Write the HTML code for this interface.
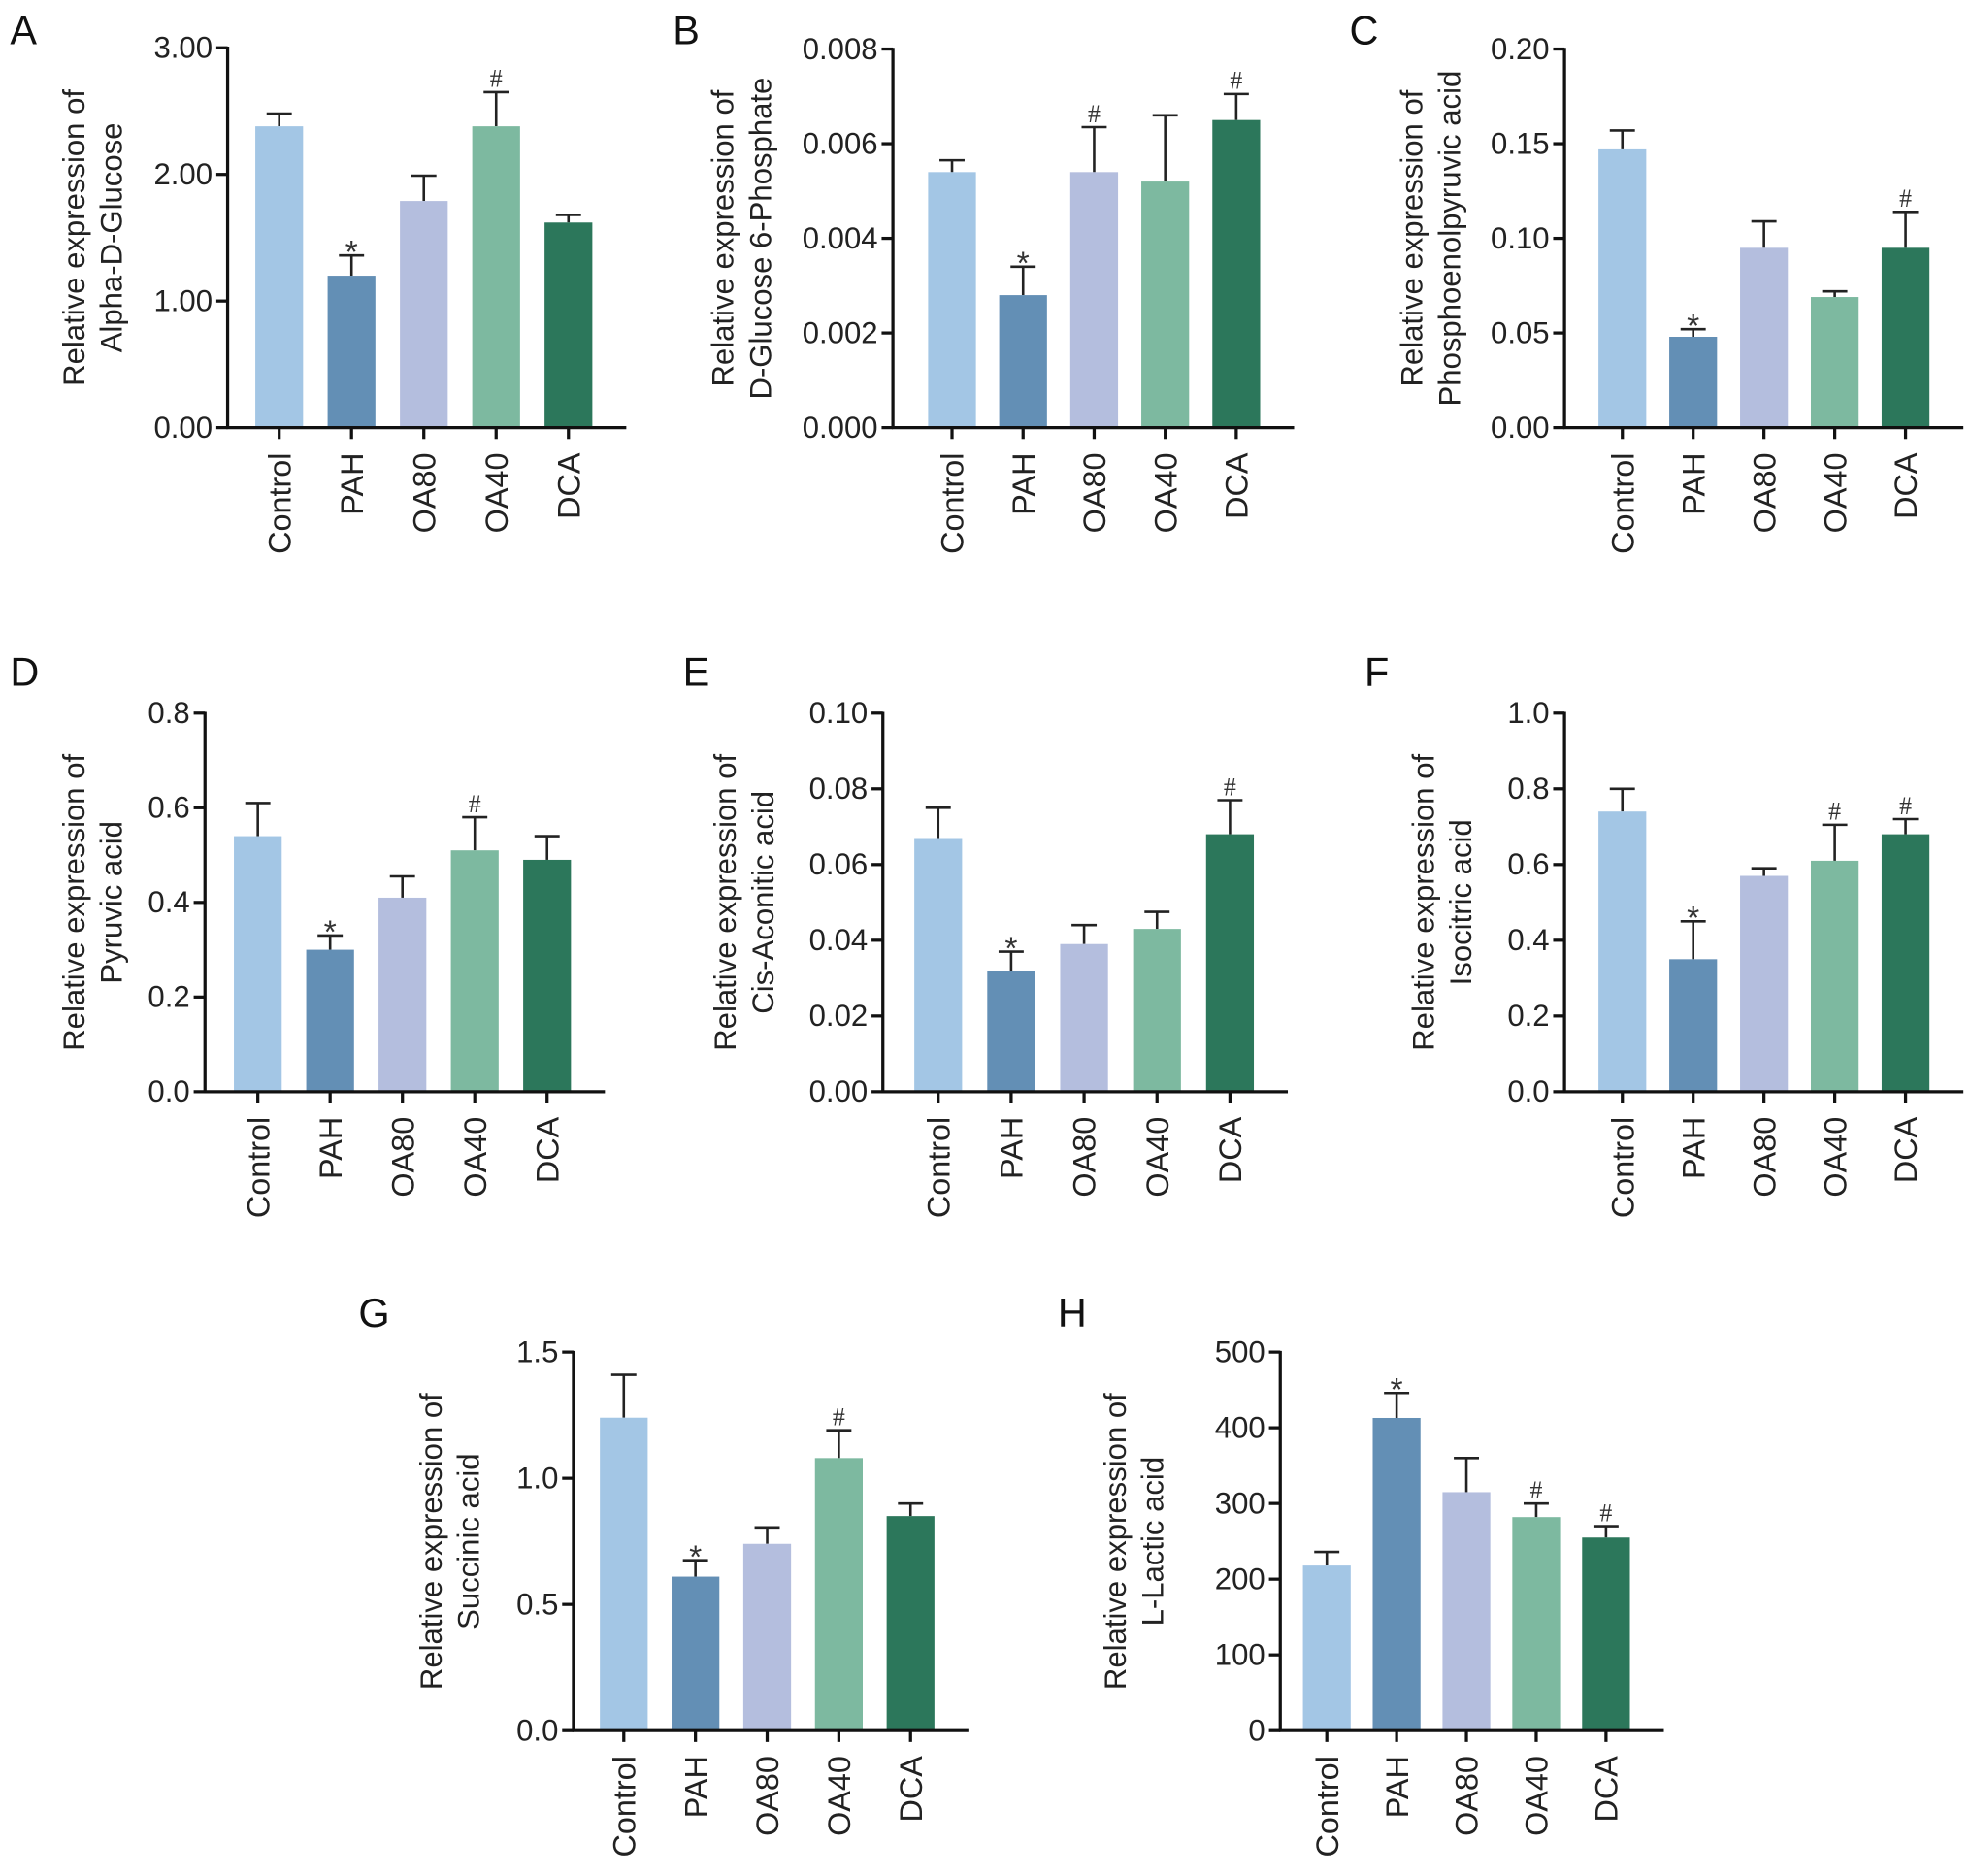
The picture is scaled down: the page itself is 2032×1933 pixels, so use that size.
<!DOCTYPE html>
<html><head><meta charset="utf-8"><style>
html,body{margin:0;padding:0;background:#fff;}
svg{display:block;font-family:"Liberation Sans",Arial,sans-serif;}
</style></head><body>
<svg id="fig" width="2032" height="1933" viewBox="0 0 1568 1491.6" xmlns="http://www.w3.org/2000/svg"></svg>
<script>
const categories = ["Control","PAH","OA80","OA40","DCA"];
const colors = ["#a3c6e5","#638fb5","#b4bede","#7db9a0","#2c775b"];

const aValues = [2.38,1.2,1.79,2.38,1.62];
const aErrors = [0.1,0.16,0.2,0.27,0.06];
const aMarks = ["","*","","#",""];
const aTicks = ["0.00","1.00","2.00","3.00"];

const bValues = [0.0054,0.0028,0.0054,0.0052,0.0065];
const bErrors = [0.00025,0.0006,0.00095,0.0014,0.00055];
const bMarks = ["","*","#","","#"];
const bTicks = ["0.000","0.002","0.004","0.006","0.008"];

const cValues = [0.147,0.048,0.095,0.069,0.095];
const cErrors = [0.01,0.004,0.014,0.003,0.019];
const cMarks = ["","*","","","#"];
const cTicks = ["0.00","0.05","0.10","0.15","0.20"];

const dValues = [0.54,0.30,0.41,0.51,0.49];
const dErrors = [0.07,0.03,0.045,0.07,0.05];
const dMarks = ["","*","","#",""];
const dTicks = ["0.0","0.2","0.4","0.6","0.8"];

const eValues = [0.067,0.032,0.039,0.043,0.068];
const eErrors = [0.008,0.005,0.005,0.0045,0.009];
const eMarks = ["","*","","","#"];
const eTicks = ["0.00","0.02","0.04","0.06","0.08","0.10"];

const fValues = [0.74,0.35,0.57,0.61,0.68];
const fErrors = [0.06,0.1,0.02,0.095,0.04];
const fMarks = ["","*","","#","#"];
const fTicks = ["0.0","0.2","0.4","0.6","0.8","1.0"];

const gValues = [1.24,0.61,0.74,1.08,0.85];
const gErrors = [0.17,0.065,0.065,0.11,0.05];
const gMarks = ["","*","","#",""];
const gTicks = ["0.0","0.5","1.0","1.5"];

const hValues = [218,413,315,282,255];
const hErrors = [18,33,45,18,15];
const hMarks = ["","*","","#","#"];
const hTicks = ["0","100","200","300","400","500"];

const NS="http://www.w3.org/2000/svg";
const svg=document.getElementById('fig');
function mk(tag,attrs,parent){const e=document.createElementNS(NS,tag);for(const k in attrs)e.setAttribute(k,attrs[k]);(parent||svg).appendChild(e);return e;}

function panel(p){
  const g=mk('g',{});
  
  
  const ticksNum=p.ticks.map(Number);
  const ymax=ticksNum[ticksNum.length-1];
  const y=v=>p.zero-(v/ymax)*(p.zero-p.top);
  const x=i=>p.ax+p.first+i*p.step;
  const L=mk('text',{x:p.lx,y:p.ly,'font-size':32,fill:'#111'},g);L.textContent=p.letter;
  
  
  p.values.forEach((v,i)=>{
    const cx=x(i),top=y(v),et=y(v+p.errors[i]);
    const el=mk('line',{x1:cx,x2:cx,y1:top,y2:et,stroke:'#222','stroke-width':2},g);
    
    
    const cap=mk('line',{x1:cx-10,x2:cx+10,y1:et,y2:et,stroke:'#222','stroke-width':2},g);
    
    
    const r=mk('rect',{x:cx-19,y:top,width:38,height:p.zero-top,fill:colors[i]},g);
    
    
    if(p.marks[i]){
      const star=p.marks[i]==='*';
      const m=mk('text',{x:cx,y:star?et+6:et-4,'text-anchor':'middle','font-size':star?26:20,fill:'#333','font-family':star?'Liberation Sans,sans-serif':'Liberation Serif,serif'},g);
      m.textContent=p.marks[i];
      
      
    }
    const t=mk('line',{x1:cx,x2:cx,y1:p.zero,y2:p.zero+9,stroke:'#111','stroke-width':2.5},g);
    
    
    const lbl=mk('text',{x:0,y:0,'font-size':25,fill:'#222','text-anchor':'end',transform:`translate(${cx+9},${p.zero+20}) rotate(-90)`},g);
    lbl.textContent=categories[i];
    
    
  });
  const ya=mk('line',{x1:p.ax,x2:p.ax,y1:p.top-1,y2:p.zero+1,stroke:'#111','stroke-width':2.5},g);
  
  
  const xa=mk('line',{x1:p.ax-1,x2:p.ax+p.first+4*p.step+46,y1:p.zero,y2:p.zero,stroke:'#111','stroke-width':2.5},g);
  
  
  ticksNum.forEach((v,i)=>{
    const ty=y(v);
    const t=mk('line',{x1:p.ax-9,x2:p.ax,y1:ty,y2:ty,stroke:'#111','stroke-width':2.5},g);
    
    
    const tl=mk('text',{x:p.ax-12,y:ty+8,'text-anchor':'end','font-size':24,fill:'#222'},g);
    tl.textContent=p.ticks[i];
    
    
  });
  const cy=(p.top+p.zero)/2;
  const t1=mk('text',{x:0,y:0,'text-anchor':'middle','font-size':24,fill:'#222',transform:`translate(${p.tx},${cy}) rotate(-90)`},g);
  t1.textContent='Relative expression of';
  
  
  const t2=mk('text',{x:0,y:0,'text-anchor':'middle','font-size':24,fill:'#222',transform:`translate(${p.tx+30},${cy}) rotate(-90)`},g);
  t2.textContent=p.title;
  
  
}

panel({letter:'A',lx:8,ly:35,ax:181,top:38,zero:340,first:41,step:57.5,ticks:aTicks,values:aValues,errors:aErrors,marks:aMarks,tx:67,title:'Alpha-D-Glucose'});
panel({letter:'B',lx:535,ly:35,ax:710,top:39,zero:340,first:47,step:56.5,ticks:bTicks,values:bValues,errors:bErrors,marks:bMarks,tx:583,title:'D-Glucose 6-Phosphate'});
panel({letter:'C',lx:1073,ly:35,ax:1244,top:39,zero:340,first:46,step:56.3,ticks:cTicks,values:cValues,errors:cErrors,marks:cMarks,tx:1131,title:'Phosphoenolpyruvic acid'});
panel({letter:'D',lx:8,ly:545,ax:163,top:567,zero:868,first:42,step:57.5,ticks:dTicks,values:dValues,errors:dErrors,marks:dMarks,tx:67,title:'Pyruvic acid'});
panel({letter:'E',lx:543,ly:545,ax:702,top:567,zero:868,first:44,step:58,ticks:eTicks,values:eValues,errors:eErrors,marks:eMarks,tx:585,title:'Cis-Aconitic acid'});
panel({letter:'F',lx:1085,ly:545,ax:1244,top:567,zero:868,first:46,step:56.3,ticks:fTicks,values:fValues,errors:fErrors,marks:fMarks,tx:1140,title:'Isocitric acid'});
panel({letter:'G',lx:285,ly:1055,ax:456,top:1075,zero:1376,first:40,step:57,ticks:gTicks,values:gValues,errors:gErrors,marks:gMarks,tx:351,title:'Succinic acid'});
panel({letter:'H',lx:841,ly:1055,ax:1018,top:1075,zero:1376,first:37,step:55.5,ticks:hTicks,values:hValues,errors:hErrors,marks:hMarks,tx:895,title:'L-Lactic acid'});
</script>
</body></html>
